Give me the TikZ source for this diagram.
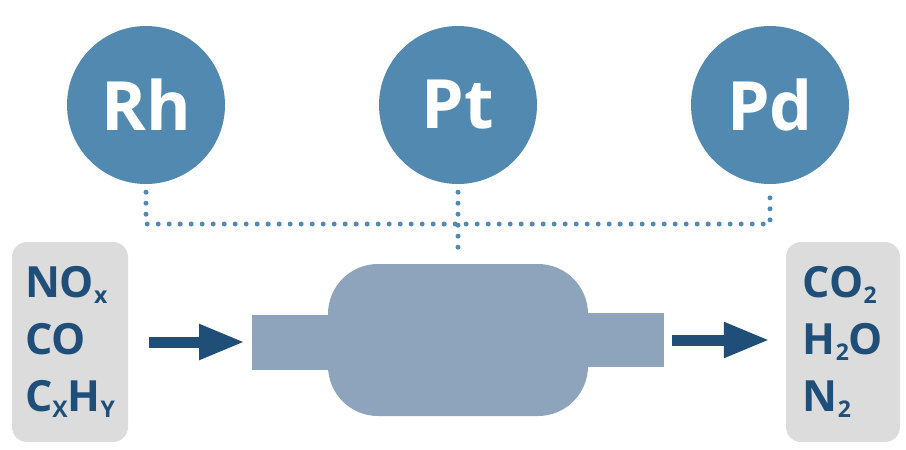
\documentclass[tikz,border=0pt]{standalone}
\usepackage{fontspec}
\setmainfont{Open Sans}
\usetikzlibrary{arrows.meta}

\definecolor{metal}{HTML}{5289B0}
\definecolor{shell}{HTML}{8EA4BD}
\definecolor{gasblue}{HTML}{1F4E79}
\definecolor{boxgray}{HTML}{DCDCDC}

% small lowered index in the gas formulas
\newcommand{\gsub}[1]{\raisebox{-6pt}{\fontsize{23}{23}\selectfont #1}}

\tikzset{
  metalnode/.style={circle, fill=metal, minimum size=158pt, inner sep=0pt,
    text=white, font=\fontsize{68}{68}\selectfont\bfseries},
  gasbox/.style={fill=boxgray, rounded corners=15pt, minimum width=116pt,
    minimum height=200pt, align=left, text=gasblue,
    font=\fontsize{43}{57}\selectfont\bfseries},
  pipe/.style={fill=shell, inner sep=0pt},
  dotline/.style={metal, line width=5pt, line cap=round, dash pattern=on 0pt off 11pt},
  flow/.style={gasblue, line width=11pt, -{Triangle[length=46pt, width=33pt]}}
}

\begin{document}
\begin{tikzpicture}[x=1pt, y=-1pt]
    \useasboundingbox (0,0) rectangle (906,450);

    % Catalyst metals
    \node[metalnode] (rh) at (146,105) {Rh};
    \node[metalnode] (pt) at (458,105) {Pt};
    \node[metalnode] (pd) at (770,105) {Pd};

    % Converter: two pipes and the rounded body
    \node[pipe, minimum width=100pt, minimum height=55pt, anchor=west] (inpipe) at (252,342) {};
    \node[pipe, minimum width=100pt, minimum height=54pt, anchor=east] (outpipe) at (664,340) {};
    \node[pipe, rounded corners=50pt, minimum width=260pt, minimum height=152pt] (body) at (458,340) {};

    % Gases in and out
    \node[gasbox] (gasin) at (70,342) {NO\gsub{x}\\CO\\C\gsub{X}H\gsub{Y}};
    \node[gasbox, minimum width=114pt] (gasout) at (843,342) {CO\gsub{2}\\H\gsub{2}O\\N\gsub{2}};

    % Dotted links from the metals to the converter
    \coordinate (bus) at (458,224);
    \draw[dotline] ([yshift=-8pt]rh.south) -- (rh.south |- bus) -- (pd.south |- bus) -- ([yshift=-8pt]pd.south);
    \draw[dotline] ([yshift=-8pt]pt.south) -- ([yshift=7pt]body.north);

    % Flow arrows
    \draw[flow] ([xshift=21pt]gasin.east) -- ([xshift=-7pt]inpipe.west);
    \draw[flow] ([xshift=8pt]outpipe.east) -- ([xshift=-16pt]outpipe.east -| gasout.west);
\end{tikzpicture}
\end{document}
